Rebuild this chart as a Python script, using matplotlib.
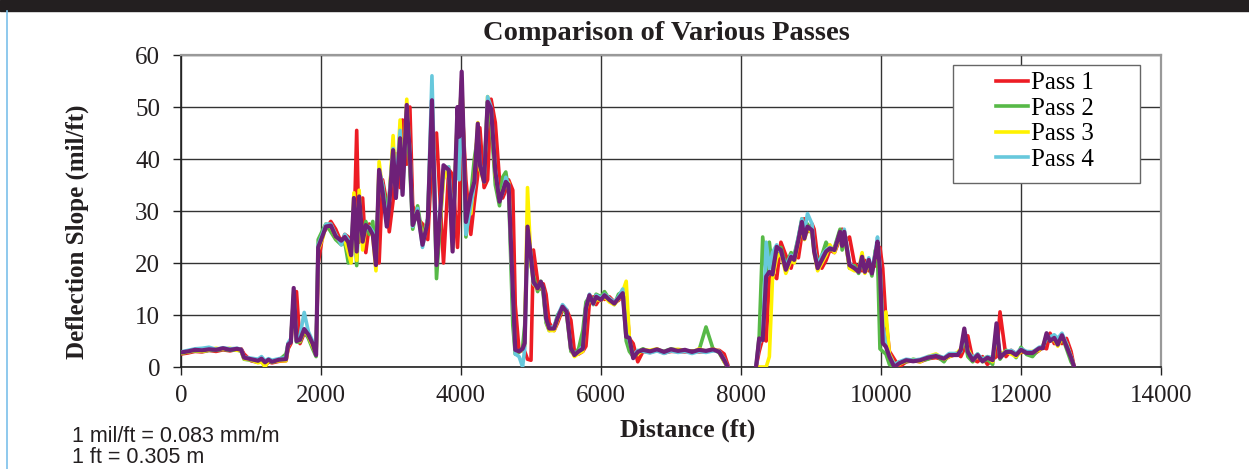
import numpy as np
import matplotlib
matplotlib.use("Agg")
import matplotlib.pyplot as plt
from matplotlib.patches import Rectangle
from matplotlib.lines import Line2D

nan = np.nan

# distance along the road (ft); nan marks the gap with no readings
distance = [
    0, 100, 200, 300, 400, 500, 600, 700, 800, 860,
    900, 1000, 1100, 1150, 1200, 1250, 1300, 1400, 1500, 1530,
    1570, 1610, 1650, 1700, 1760, 1820, 1880, 1930, 1960, 2030,
    2070, 2140, 2210, 2290, 2340, 2390, 2430, 2470, 2510, 2545,
    2595, 2640, 2690, 2740, 2785, 2830, 2880, 2940, 2975, 3030,
    3070, 3130, 3165, 3225, 3270, 3310, 3380, 3450, 3525, 3585,
    3650, 3750, 3825, 3880, 3950, 3975, 4010, 4070, 4140, 4190,
    4240, 4270, 4330, 4380, 4430, 4490, 4550, 4595, 4640, 4680,
    4740, 4775, 4830, 4880, 4910, 4950, 5000, 5035, 5095, 5140,
    5175, 5215, 5260, 5330, 5380, 5450, 5510, 5570, 5620, 5680,
    5740, 5785, 5835, 5890, 5930, 6000, 6050, 6120, 6190, 6250,
    6310, 6360, 6405, 6460, 6525, 6600, 6700, 6800, 6900, 7000,
    7100, 7200, 7300, 7400, 7500, 7600, 7690, 7760, 7810, 8000,
    8215, 8260, 8310, 8360, 8405, 8450, 8510, 8570, 8640, 8715,
    8760, 8820, 8870, 8905, 8950, 9015, 9045, 9095, 9155, 9215,
    9270, 9335, 9380, 9415, 9445, 9475, 9550, 9620, 9680, 9730,
    9770, 9825, 9870, 9920, 9950, 9985, 10025, 10070, 10120, 10190,
    10260, 10360, 10460, 10560, 10670, 10785, 10900, 10975, 11095, 11140,
    11190, 11240, 11310, 11380, 11450, 11520, 11595, 11650, 11700, 11785,
    11860, 11930, 12000, 12080, 12165, 12260, 12310, 12365, 12415, 12475,
    12525, 12585, 12650, 12715, 12760,
]

pass1 = [
    2.5, 2.7, 3.0, 2.9, 3.2, 3.0, 3.3, 3.1, 3.4, 3.5,
    2.5, 1.2, 0.9, 1.2, 0.2, 1.0, 0.8, 1.1, 1.2, 3.5,
    4.5, 12.0, 14.5, 4.5, 6.5, 5.8, 4.8, 2.5, 20.0, 25.8,
    26.5, 28.0, 26.5, 24.0, 25.5, 25.0, 24.0, 25.0, 45.5, 24.0,
    32.5, 22.0, 27.5, 25.5, 24.0, 20.0, 36.0, 31.5, 26.0, 32.0,
    41.0, 34.5, 47.5, 39.0, 50.0, 31.0, 28.5, 27.5, 24.5, 40.0,
    45.0, 20.0, 38.0, 37.0, 23.0, 30.0, 52.0, 36.0, 25.5, 31.5,
    37.0, 46.0, 34.5, 36.0, 51.5, 47.0, 36.0, 32.5, 34.0, 36.0,
    34.0, 12.0, 3.0, 3.2, 3.0, 1.5, 1.3, 22.5, 16.5, 15.0,
    16.0, 14.0, 8.5, 7.0, 8.5, 11.0, 11.0, 9.0, 3.0, 2.5,
    3.0, 4.0, 12.5, 13.5, 12.0, 13.5, 13.0, 13.5, 12.5, 12.8,
    13.8, 13.0, 5.5, 4.5, 1.0, 3.0, 2.8, 3.2, 2.7, 3.0,
    3.0, 2.9, 3.1, 2.9, 3.0, 3.2, 3.2, 2.5, 0.5, nan,
    0.0, 3.0, 5.5, 5.0, 17.0, 18.0, 17.0, 24.0, 21.5, 19.0,
    21.5, 21.0, 25.5, 28.5, 26.0, 27.5, 26.5, 21.0, 19.0, 20.5,
    22.5, 22.0, 23.5, 25.5, 26.5, 24.0, 25.0, 20.0, 19.0, 18.5,
    20.5, 18.5, 19.0, 19.5, 22.5, 23.0, 19.0, 9.0, 3.0, 1.5,
    0.0, 1.0, 1.2, 1.0, 1.6, 1.8, 1.4, 2.0, 2.5, 2.0,
    3.5, 6.0, 1.5, 1.0, 2.0, 0.5, 1.5, 2.0, 10.6, 2.0,
    3.2, 2.5, 2.8, 2.9, 2.3, 3.2, 3.8, 3.5, 6.5, 4.5,
    5.0, 4.5, 5.5, 3.0, 0.0,
]

pass2 = [
    2.6, 2.9, 3.1, 3.0, 3.2, 3.2, 3.4, 3.2, 3.3, 3.0,
    1.5, 1.3, 1.0, 1.4, 0.7, 1.2, 0.9, 1.3, 2.5, 4.5,
    5.0, 14.0, 4.8, 4.8, 7.0, 5.5, 3.5, 2.0, 24.5, 26.5,
    27.5, 26.0, 24.5, 23.5, 24.0, 20.0, 20.5, 31.0, 19.5, 30.5,
    24.5, 28.0, 25.5, 28.0, 20.0, 37.0, 35.0, 30.5, 33.0, 42.5,
    34.0, 45.0, 35.0, 49.5, 38.0, 26.5, 31.0, 25.0, 28.5, 50.5,
    17.0, 37.0, 37.5, 24.0, 48.5, 47.0, 55.0, 25.0, 33.0, 40.0,
    44.5, 38.0, 36.5, 51.0, 47.0, 35.0, 31.0, 36.5, 37.5, 34.0,
    8.0, 2.5, 2.8, 3.8, 8.0, 25.0, 19.5, 17.5, 14.5, 16.5,
    14.0, 8.5, 7.0, 7.5, 10.0, 11.5, 10.0, 3.0, 2.5, 3.5,
    7.0, 12.5, 13.5, 12.5, 14.0, 13.5, 14.5, 13.0, 12.0, 14.0,
    14.5, 5.0, 3.0, 2.0, 3.0, 3.5, 2.9, 3.3, 3.0, 3.5,
    3.2, 3.1, 3.0, 3.2, 7.7, 3.5, 2.7, 1.0, 0.0, nan,
    0.0, 6.0, 25.0, 18.0, 24.0, 18.5, 22.5, 23.0, 19.5, 22.0,
    21.5, 25.0, 28.5, 25.5, 27.5, 25.5, 22.5, 20.0, 21.5, 24.0,
    22.5, 23.0, 25.0, 26.5, 22.5, 25.5, 19.0, 19.5, 18.0, 20.5,
    19.5, 20.0, 17.5, 22.5, 21.5, 3.5, 3.0, 2.5, 0.5, 0.0,
    1.0, 1.0, 1.5, 1.2, 1.5, 2.2, 1.0, 2.5, 2.5, 3.0,
    6.0, 2.0, 1.0, 2.5, 1.0, 1.5, 0.5, 7.5, 1.5, 3.2,
    3.0, 1.8, 3.8, 2.4, 2.0, 3.6, 3.8, 5.5, 5.5, 6.0,
    4.5, 6.0, 3.5, 1.0, 0.0,
]

pass3 = [
    2.7, 2.9, 3.2, 3.0, 3.3, 3.6, 3.4, 3.6, 3.2, 3.2,
    1.6, 1.4, 0.8, 1.0, 0.0, 1.2, 1.0, 1.2, 1.2, 4.0,
    5.0, 14.5, 5.2, 5.0, 7.0, 6.0, 4.0, 2.5, 22.5, 25.0,
    27.5, 27.0, 25.0, 24.0, 24.5, 22.0, 20.0, 33.5, 20.5, 34.0,
    22.5, 27.0, 27.0, 25.0, 18.5, 39.5, 34.0, 28.0, 32.0, 44.5,
    33.0, 47.5, 34.5, 51.5, 41.0, 28.0, 30.0, 24.5, 28.0, 52.0,
    20.5, 36.0, 38.5, 22.5, 49.0, 45.0, 55.5, 29.0, 29.5, 36.5,
    47.0, 38.0, 35.5, 52.0, 49.0, 37.0, 32.0, 34.0, 35.5, 35.5,
    14.0, 3.0, 3.0, 3.3, 4.0, 34.5, 20.0, 16.0, 15.0, 16.0,
    15.0, 9.0, 7.0, 7.0, 9.0, 11.5, 10.5, 3.5, 2.0, 2.6,
    3.0, 11.0, 13.5, 12.0, 13.0, 12.8, 13.5, 12.5, 12.0, 13.0,
    14.5, 16.5, 5.5, 2.0, 2.5, 3.3, 3.2, 3.5, 2.8, 3.3,
    3.4, 3.2, 2.8, 3.5, 3.0, 3.5, 3.0, 1.0, 0.0, nan,
    0.0, 0.0, 0.0, 0.0, 2.0, 17.0, 21.0, 22.0, 18.0, 20.5,
    20.0, 24.0, 27.0, 24.5, 26.5, 26.0, 22.0, 18.5, 20.0, 21.5,
    23.5, 22.0, 24.0, 25.5, 23.5, 26.0, 19.0, 18.5, 18.5, 22.0,
    18.0, 20.0, 18.5, 21.0, 24.0, 19.0, 7.0, 10.6, 2.5, 0.5,
    0.5, 1.2, 1.3, 1.0, 2.0, 2.5, 1.5, 2.0, 2.8, 3.5,
    5.5, 3.5, 1.5, 2.0, 1.5, 2.0, 1.0, 6.5, 2.5, 3.0,
    2.5, 2.0, 3.0, 2.9, 3.0, 3.2, 4.0, 6.0, 5.0, 5.2,
    4.0, 5.5, 4.5, 2.0, 0.0,
]

pass4 = [
    2.9, 3.2, 3.5, 3.6, 3.8, 3.4, 3.7, 3.5, 3.6, 3.4,
    1.9, 1.7, 1.5, 2.0, 1.2, 1.6, 1.3, 1.6, 1.8, 4.6,
    5.5, 13.5, 5.6, 6.0, 10.5, 6.8, 5.0, 2.8, 23.5, 26.0,
    27.5, 27.5, 25.5, 23.5, 25.5, 24.5, 22.5, 31.5, 23.0, 31.5,
    25.0, 26.5, 27.0, 26.0, 20.5, 38.0, 35.0, 27.5, 32.5, 42.0,
    35.0, 45.5, 33.5, 49.5, 41.5, 27.0, 30.5, 23.0, 28.5, 56.0,
    21.5, 38.0, 38.5, 26.0, 44.0, 36.0, 54.0, 25.5, 31.0, 35.0,
    46.0, 39.0, 36.0, 52.0, 50.0, 38.0, 32.0, 33.5, 36.5, 35.0,
    13.0, 2.5, 2.0, 0.0, 3.5, 26.0, 21.5, 16.0, 15.5, 16.0,
    15.0, 9.0, 7.5, 7.8, 9.8, 12.0, 11.0, 3.5, 2.5, 3.0,
    4.0, 11.5, 14.0, 12.0, 13.8, 13.3, 14.0, 13.2, 12.5, 13.5,
    15.0, 6.5, 5.0, 2.2, 3.2, 3.0, 2.7, 3.1, 2.6, 3.1,
    2.8, 3.0, 2.6, 3.0, 2.8, 3.1, 3.0, 1.5, 0.0, nan,
    0.0, 4.5, 6.0, 24.0, 19.0, 22.0, 23.5, 22.0, 19.5, 21.5,
    21.0, 25.0, 28.5, 26.0, 29.5, 27.5, 23.0, 19.5, 21.5, 22.5,
    23.0, 22.5, 24.5, 25.5, 24.0, 26.5, 20.0, 19.0, 18.5, 21.0,
    18.5, 21.0, 18.5, 22.0, 25.0, 19.5, 8.0, 4.0, 2.2, 0.5,
    1.0, 1.5, 1.3, 1.5, 2.0, 2.3, 1.8, 2.6, 2.6, 3.0,
    6.5, 3.0, 1.8, 2.5, 1.5, 2.0, 1.8, 7.0, 2.0, 3.0,
    3.2, 2.6, 3.5, 3.0, 2.9, 3.8, 4.0, 5.5, 5.8, 6.2,
    5.5, 6.5, 4.5, 2.0, 0.0,
]

# fifth (purple) pass drawn on top, not in the legend
pass5 = [
    2.8, 3.0, 3.3, 3.2, 3.4, 3.3, 3.6, 3.3, 3.5, 3.3,
    1.8, 1.5, 1.2, 1.6, 0.9, 1.4, 1.0, 1.4, 1.5, 4.3,
    4.8, 15.2, 5.0, 5.2, 7.3, 6.2, 4.5, 2.3, 23.0, 25.5,
    27.0, 27.2, 25.1, 24.3, 25.0, 24.0, 21.5, 32.5, 22.2, 32.8,
    24.1, 27.3, 26.7, 25.4, 19.6, 37.9, 33.7, 27.0, 31.2, 41.7,
    32.5, 44.0, 33.1, 50.4, 40.8, 27.3, 29.9, 23.5, 27.9, 51.3,
    19.6, 38.8, 37.9, 22.2, 50.0, 44.3, 56.8, 27.9, 33.1, 35.6,
    46.8, 38.8, 35.6, 51.0, 49.7, 37.6, 31.8, 33.7, 35.6, 35.0,
    15.2, 3.3, 3.0, 3.5, 4.6, 27.0, 21.0, 16.4, 15.1, 16.4,
    15.1, 9.4, 7.4, 7.4, 9.4, 11.6, 10.6, 3.6, 2.3, 3.0,
    3.5, 11.3, 13.8, 12.2, 13.5, 12.9, 13.8, 12.9, 12.2, 13.2,
    14.2, 5.8, 5.6, 1.7, 2.9, 3.3, 3.0, 3.4, 2.9, 3.4,
    3.1, 3.3, 2.9, 3.3, 3.1, 3.4, 2.9, 1.3, 0.0, nan,
    0.0, 5.5, 5.2, 17.4, 18.3, 17.8, 23.1, 22.5, 18.7, 21.2,
    20.6, 24.4, 27.9, 24.7, 27.0, 26.3, 22.2, 19.0, 20.6, 22.2,
    22.8, 22.5, 24.4, 26.0, 23.3, 26.0, 19.6, 19.0, 18.3, 21.2,
    18.3, 20.6, 18.0, 21.5, 24.1, 18.7, 4.6, 3.9, 2.0, 0.0,
    0.7, 1.3, 1.1, 1.3, 1.8, 2.1, 1.6, 2.3, 2.3, 3.3,
    7.4, 2.9, 1.3, 2.3, 1.1, 1.8, 1.3, 8.4, 1.8, 2.9,
    2.9, 2.3, 3.3, 2.7, 2.7, 3.6, 3.6, 6.5, 5.0, 5.6,
    4.3, 6.1, 4.0, 1.8, 0.0,
]

labels = ["Pass 1", "Pass 2", "Pass 3", "Pass 4"]
colors = ["#ed1c24", "#57b947", "#fff200", "#67c8dc"]
purple = "#6e2078"

x_ticks = [0, 2000, 4000, 6000, 8000, 10000, 12000, 14000]
y_ticks = [0, 10, 20, 30, 40, 50, 60]

serif = ["Liberation Serif", "DejaVu Serif"]
sans = ["Liberation Sans", "DejaVu Sans"]
ink = "#231f20"

fig = plt.figure(figsize=(12.49, 4.69), dpi=100)
ax = fig.add_axes([181 / 1249, 102 / 469, 980 / 1249, 312 / 469])

for vals, lab, col in zip([pass1, pass2, pass3, pass4], labels, colors):
    ax.plot(distance, vals, color=col, lw=2.6, label=lab, zorder=3)
ax.plot(distance, pass5, color=purple, lw=3.0, zorder=4)

ax.set_xlim(0, 14000)
ax.set_ylim(0, 60)
ax.set_xticks(x_ticks)
ax.set_yticks(y_ticks)
ax.grid(True, color="#333333", lw=1.0, zorder=1)
ax.set_axisbelow(True)

for side in ["left", "bottom"]:
    ax.spines[side].set_color("#222222")
    ax.spines[side].set_linewidth(1.2)
for side in ["top", "right"]:
    ax.spines[side].set_color("#999999")
    ax.spines[side].set_linewidth(1.6)

ax.tick_params(axis="both", direction="out", length=6, width=1, color="#222222",
               labelsize=18, labelcolor=ink)
ax.tick_params(axis="x", pad=7)
ax.tick_params(axis="y", pad=9)
for t in ax.get_xticklabels() + ax.get_yticklabels():
    t.set_family(serif)

# legend: entries without frame, plus a wider box drawn separately
leg = ax.legend(loc="upper left", bbox_to_anchor=(0.8316, 0.946), borderaxespad=0,
                frameon=False, prop={"family": serif, "size": 18},
                handlelength=1.3, handletextpad=0.12, labelspacing=0.12,
                borderpad=0)
for line in leg.get_lines():
    line.set_linewidth(2.6)
ax.add_patch(Rectangle((0.788, 0.590), 0.9786 - 0.788, 0.968 - 0.590,
                       transform=ax.transAxes, facecolor="white", edgecolor="#666666",
                       lw=1.0, zorder=5))
leg.set_zorder(6)

fig.text(666 / 1249, 1 - 34 / 469, "Comparison of Various Passes", ha="center", va="center",
         family=serif, fontsize=20.5, fontweight="bold", color=ink)
fig.text(77 / 1249, 1 - 232 / 469, "Deflection Slope (mil/ft)", ha="center", va="center",
         rotation=90, family=serif, fontsize=18, fontweight="bold", color=ink)
fig.text(688 / 1249, 1 - 430 / 469, "Distance (ft)", ha="center", va="center",
         family=serif, fontsize=18.5, fontweight="bold", color=ink)

fig.text(72 / 1249, 1 - 436 / 469, "1 mil/ft = 0.083 mm/m", ha="left", va="center",
         family=sans, fontsize=15.5, color=ink)
fig.text(72 / 1249, 1 - 457 / 469, "1 ft = 0.305 m", ha="left", va="center",
         family=sans, fontsize=15.5, color=ink)

# dark band on top and thin blue rule on the left
fig.patches.append(Rectangle((0, 1 - 11 / 469), 1, 11 / 469, transform=fig.transFigure,
                             color=ink, zorder=0))
fig.lines.append(Line2D([6.5 / 1249, 6.5 / 1249], [0, 1 - 11 / 469], transform=fig.transFigure,
                        color="#7cc0ea", lw=1.2))

fig.savefig("out.png", dpi=100)
